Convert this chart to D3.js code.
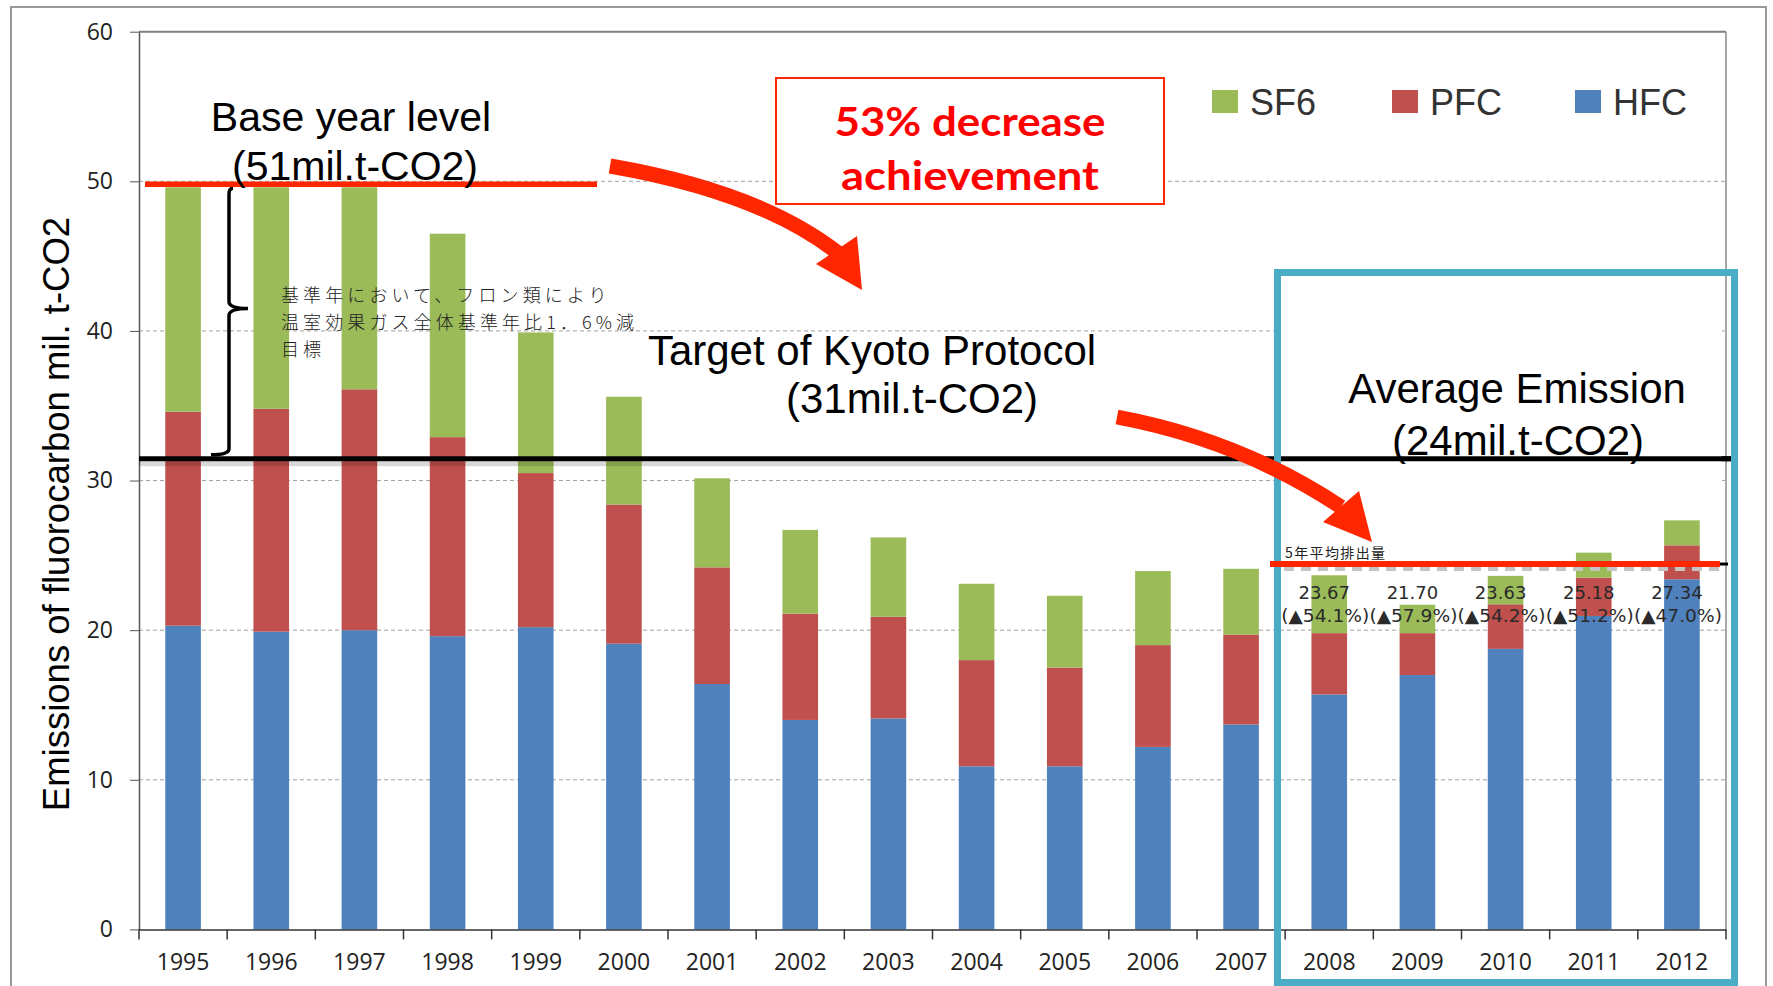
<!DOCTYPE html>
<html>
<head>
<meta charset="utf-8">
<script src="https://cdn.jsdelivr.net/npm/d3@7"></script>
<style>
  body { margin: 0; background: #fff; }
  svg { display: block; font-family: "Liberation Sans", Arial, sans-serif; }
</style>
</head>
<body>
<svg id="chart" width="1773" height="986"></svg>
<script>
// data (mil. t-CO2)
const years = ["1995", "1996", "1997", "1998", "1999", "2000", "2001", "2002", "2003",
    "2004", "2005", "2006", "2007", "2008", "2009", "2010", "2011", "2012"];
const hfc = [20.3, 19.9, 20.0, 19.6, 20.2, 19.1, 16.4, 14.0, 14.1, 10.9, 10.9, 12.2, 13.7, 15.7, 17.0, 18.75, 20.95, 23.4];
const pfc = [14.3, 14.9, 16.1, 13.3, 10.3, 9.3, 7.8, 7.1, 6.8, 7.1, 6.6, 6.8, 6.0, 4.1, 2.8, 2.98, 2.56, 2.27];
const sf6 = [15.0, 14.8, 13.5, 13.6, 9.4, 7.2, 5.95, 5.6, 5.3, 5.1, 4.8, 4.95, 4.4, 3.87, 1.9, 1.9, 1.67, 1.67];

const yTicks = [0, 10, 20, 30, 40, 50, 60];
const legendKeys = ["SF6", "PFC", "HFC"];

const avgYears = ["2008", "2009", "2010", "2011", "2012"];
const avgValues = ["23.67", "21.70", "23.63", "25.18", "27.34"];
const avgChanges = ["(▲54.1%)", "(▲57.9%)", "(▲54.2%)", "(▲51.2%)", "(▲47.0%)"];

const baseLevel = 49.8;     // red line, base year
const kyotoTarget = 31.45;  // black line, Kyoto target
const fiveYearAvg = 24.42;  // red line, 5 year average
const braceMid = 41.5;

const colors = { HFC: "#4F81BD", PFC: "#C0504D", SF6: "#9BBB59" };
const RED = "#FF2600";

const svg = d3.select("#chart");
const plotLeft = 139, plotRight = 1726, plotTop = 31.7, plotBottom = 929.4;

const x = d3.scaleBand().domain(years).range([plotLeft, plotRight]).padding(0);
const barW = x.bandwidth() * 0.404;
const y = d3.scaleLinear().domain([0, 60]).range([plotBottom, plotTop]);

const table = years.map((yr, i) => ({ year: yr, HFC: hfc[i], PFC: pfc[i], SF6: sf6[i] }));
const series = d3.stack().keys(["HFC", "PFC", "SF6"])(table);

// outer frame
svg.append("rect").attr("x", 11).attr("y", 7).attr("width", 1755).attr("height", 1000)
    .attr("fill", "none").attr("stroke", "#9a9a9a").attr("stroke-width", 2);

// gridlines
svg.append("g").selectAll("line")
    .data(yTicks.filter(d => d > 0 && d < 60))
    .join("line")
    .attr("x1", plotLeft).attr("x2", plotRight)
    .attr("y1", d => y(d)).attr("y2", d => y(d))
    .attr("stroke", "#a0a0a0").attr("stroke-width", 1).attr("stroke-dasharray", "4,3");

// plot border top / right
svg.append("line").attr("x1", plotLeft).attr("x2", plotRight).attr("y1", y(60)).attr("y2", y(60))
    .attr("stroke", "#808080").attr("stroke-width", 2);
svg.append("line").attr("x1", plotRight).attr("x2", plotRight).attr("y1", y(60)).attr("y2", y(0))
    .attr("stroke", "#8a8a8a").attr("stroke-width", 1.5);

// bars
svg.append("g").selectAll("g")
    .data(series)
    .join("g")
    .attr("fill", d => colors[d.key])
    .selectAll("rect")
    .data(d => d)
    .join("rect")
    .attr("x", d => x(d.data.year) + (x.bandwidth() - barW) / 2)
    .attr("y", d => y(d[1]))
    .attr("width", barW)
    .attr("height", d => y(d[0]) - y(d[1]));

// y axis
const yAxis = svg.append("g")
    .attr("transform", `translate(${plotLeft},0)`)
    .call(d3.axisLeft(y).tickValues(yTicks).tickSize(9).tickSizeOuter(0).tickPadding(17));
yAxis.select(".domain").attr("stroke", "#555").attr("stroke-width", 1.5);
yAxis.selectAll(".tick line").attr("stroke", "#555");
yAxis.selectAll("text").attr("font-size", 23).attr("fill", "#222")
    .attr("font-family", "'Open Sans', sans-serif");

// x axis
const xAxis = svg.append("g")
    .attr("transform", `translate(0,${plotBottom})`)
    .call(d3.axisBottom(x).tickSize(0).tickPadding(24));
xAxis.select(".domain").attr("stroke", "#333").attr("stroke-width", 1.5);
xAxis.selectAll("text").attr("font-size", 23).attr("fill", "#222")
    .attr("font-family", "'Open Sans', sans-serif");
svg.append("g").selectAll("line")
    .data(d3.range(years.length + 1))
    .join("line")
    .attr("x1", i => plotLeft + i * x.step()).attr("x2", i => plotLeft + i * x.step())
    .attr("y1", plotBottom).attr("y2", plotBottom + 10)
    .attr("stroke", "#333").attr("stroke-width", 1.5);

// y axis title
svg.append("text")
    .attr("transform", "translate(69,514) rotate(-90)")
    .attr("text-anchor", "middle")
    .attr("font-size", 36.5)
    .attr("fill", "#000")
    .text("Emissions of fluorocarbon mil. t-CO2");

// Kyoto target line with shadow
svg.append("line").attr("x1", plotLeft).attr("x2", 1273).attr("y1", y(kyotoTarget) + 5).attr("y2", y(kyotoTarget) + 5)
    .attr("stroke", "#000").attr("stroke-opacity", 0.15).attr("stroke-width", 5);
svg.append("line").attr("x1", plotLeft).attr("x2", 1731).attr("y1", y(kyotoTarget)).attr("y2", y(kyotoTarget))
    .attr("stroke", "#000").attr("stroke-width", 5);

// brace between base year and target
const bx = 229, bTop = y(baseLevel) + 4, bMid = y(braceMid), bBot = y(kyotoTarget) - 4;
svg.append("path")
    .attr("d", `M${bx + 4},${bTop} Q${bx},${bTop} ${bx},${bTop + 6} L${bx},${bMid - 7}` +
        ` Q${bx},${bMid} ${bx + 19},${bMid} Q${bx},${bMid} ${bx},${bMid + 7}` +
        ` L${bx},${bBot - 6} Q${bx},${bBot} ${bx - 18},${bBot}`)
    .attr("fill", "none").attr("stroke", "#000").attr("stroke-width", 3.5);

// base year red line
svg.append("line").attr("x1", 145).attr("x2", 597).attr("y1", y(baseLevel)).attr("y2", y(baseLevel))
    .attr("stroke", RED).attr("stroke-width", 5.5);

// japanese note, cut at the right
svg.append("clipPath").attr("id", "noteClip")
    .append("rect").attr("x", 270).attr("y", 270).attr("width", 376).attr("height", 100);
const note = svg.append("g").attr("clip-path", "url(#noteClip)")
    .attr("font-family", "'Noto Sans CJK JP', sans-serif").attr("font-weight", 300)
    .attr("font-size", 18).attr("fill", "#222").attr("letter-spacing", 4.1);
["基準年において、フロン類により", "温室効果ガス全体基準年比1．6%減", "目標"].forEach((t, i) => {
    note.append("text").attr("x", 281).attr("y", 302 + i * 27).text(t);
});

// big annotation texts
function label(lines, cx, ys, size) {
    lines.forEach((t, i) => {
        svg.append("text").attr("x", cx[i]).attr("y", ys[i])
            .attr("text-anchor", "middle").attr("font-size", size).attr("fill", "#000").text(t);
    });
}
label(["Base year level", "(51mil.t-CO2)"], [351, 355], [131, 180], 41);
label(["Target of Kyoto Protocol", "(31mil.t-CO2)"], [872, 912], [365, 413], 42);

// red box
svg.append("rect").attr("x", 776).attr("y", 78).attr("width", 388).attr("height", 126)
    .attr("fill", "#fff").attr("stroke", RED).attr("stroke-width", 2);
[["53% decrease", 136, 271], ["achievement", 190, 258]].forEach(([t, yy, w]) => {
    svg.append("text").attr("x", 970).attr("y", yy).attr("text-anchor", "middle")
        .attr("font-family", "Lato, sans-serif").attr("font-weight", "bold")
        .attr("font-size", 40).attr("fill", "#FF0000")
        .attr("textLength", w).attr("lengthAdjust", "spacingAndGlyphs").text(t);
});

// legend
const legendX = [1212, 1392, 1575];
const legend = svg.append("g").selectAll("g")
    .data(legendKeys)
    .join("g")
    .attr("transform", (d, i) => `translate(${legendX[i]},90)`);
legend.append("rect").attr("width", 26).attr("height", 23).attr("fill", d => colors[d]);
legend.append("text").attr("x", 38).attr("y", 25).attr("font-size", 36).attr("fill", "#333").text(d => d);

// average emission box
svg.append("rect").attr("x", 1281).attr("y", 276).attr("width", 441).attr("height", 226).attr("fill", "#fff");
svg.append("line").attr("x1", 1277).attr("x2", 1731).attr("y1", y(kyotoTarget)).attr("y2", y(kyotoTarget))
    .attr("stroke", "#000").attr("stroke-width", 5);
label(["Average Emission", "(24mil.t-CO2)"], [1517, 1518], [403, 455], 42);
svg.append("rect").attr("x", 1277.5).attr("y", 272.5).attr("width", 457).attr("height", 710)
    .attr("fill", "none").attr("stroke", "#4BACC6").attr("stroke-width", 7);

// 5 year average line
svg.append("line").attr("x1", 1284).attr("x2", 1720).attr("y1", y(fiveYearAvg) + 5).attr("y2", y(fiveYearAvg) + 5)
    .attr("stroke", "#c4c4c4").attr("stroke-width", 4).attr("stroke-dasharray", "10,7");
svg.append("line").attr("x1", 1270).attr("x2", 1720).attr("y1", y(fiveYearAvg)).attr("y2", y(fiveYearAvg))
    .attr("stroke", RED).attr("stroke-width", 6);
svg.append("line").attr("x1", 1720).attr("x2", 1728).attr("y1", y(fiveYearAvg)).attr("y2", y(fiveYearAvg))
    .attr("stroke", "#000").attr("stroke-width", 3);
svg.append("text").attr("x", 1285).attr("y", y(fiveYearAvg) - 6)
    .attr("font-family", "'Noto Sans CJK JP', sans-serif").attr("font-size", 14)
    .attr("textLength", 100).attr("lengthAdjust", "spacing")
    .attr("fill", "#222").text("5年平均排出量");

// value labels over the 2008-2012 bars
const vlab = svg.append("g").attr("font-family", "'DejaVu Sans', sans-serif")
    .attr("font-size", 18).attr("fill", "#2a2a2a").attr("text-anchor", "middle");
vlab.selectAll(".v").data(avgYears).join("text").attr("class", "v")
    .attr("x", d => x(d) + x.bandwidth() / 2 - 5).attr("y", y(fiveYearAvg) + 35)
    .text((d, i) => avgValues[i]);
vlab.selectAll(".c").data(avgYears).join("text").attr("class", "c")
    .attr("x", d => x(d) + x.bandwidth() / 2 - 4).attr("y", y(fiveYearAvg) + 58)
    .attr("textLength", 88).attr("lengthAdjust", "spacingAndGlyphs")
    .text((d, i) => avgChanges[i]);

// curved red arrows
function arrow(p0, p1, p2, tip, b1, b2) {
    svg.append("path")
        .attr("d", `M${p0} Q${p1} ${p2}`)
        .attr("fill", "none").attr("stroke", RED).attr("stroke-width", 15);
    svg.append("path")
        .attr("d", `M${b1} L${tip} L${b2} Z`)
        .attr("fill", RED);
}
arrow([610, 166], [760, 192], [838, 253], [862, 290], [857, 236], [816, 264]);
arrow([1117, 417], [1240, 440], [1341, 507], [1372, 542], [1359, 491], [1323, 522]);
</script>
</body>
</html>
